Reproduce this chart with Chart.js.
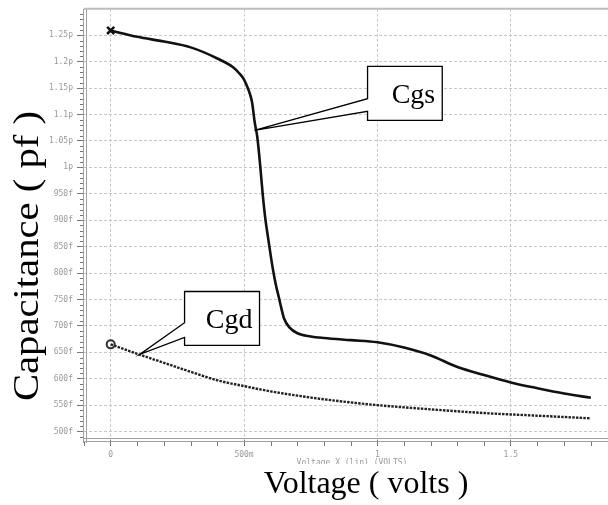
<!DOCTYPE html>
<html>
<head>
<meta charset="utf-8">
<title>Capacitance vs Voltage</title>
<script src="https://cdn.jsdelivr.net/npm/chart.js@4/dist/chart.umd.min.js"></script>
<style>
    body { margin: 0; background: #fff; overflow: hidden; }
    #wrap { position: absolute; left: 0; top: 0; width: 625px; height: 505px; }
</style>
</head>
<body>
<div id="wrap"><canvas id="chart" width="625" height="505"></canvas></div>
<script>
// values (volts, pF)
var seriesNames = ['Cgs', 'Cgd'];
var voltsCgs = [0, 0.1, 0.2, 0.3, 0.4, 0.46, 0.48, 0.5, 0.51, 0.52, 0.53, 0.54, 0.55, 0.56, 0.57, 0.58, 0.59, 0.6, 0.61, 0.62, 0.63, 0.64, 0.65, 0.67, 0.7, 0.75, 0.8, 0.9, 1.0, 1.1, 1.2, 1.3, 1.4, 1.5, 1.6, 1.7, 1.8];
var cgs = [1.259, 1.247, 1.238, 1.227, 1.206, 1.189, 1.179, 1.166, 1.155, 1.142, 1.123, 1.085, 1.056, 1.006, 0.949, 0.902, 0.867, 0.833, 0.802, 0.776, 0.755, 0.733, 0.714, 0.697, 0.686, 0.68, 0.677, 0.673, 0.669, 0.659, 0.644, 0.622, 0.607, 0.593, 0.582, 0.572, 0.564];
var voltsCgd = [0, 0.1, 0.2, 0.3, 0.4, 0.5, 0.6, 0.7, 0.8, 1.0, 1.2, 1.4, 1.6, 1.8];
var cgd = [0.665, 0.647, 0.63, 0.613, 0.597, 0.586, 0.576, 0.568, 0.561, 0.55, 0.542, 0.535, 0.53, 0.525];

var xTickValues = [0, 0.5, 1, 1.5];
var xTickLabels = ['0', '500m', '1', '1.5'];
var yTickValues = [0.5, 0.55, 0.6, 0.65, 0.7, 0.75, 0.8, 0.85, 0.9, 0.95, 1.0, 1.05, 1.1, 1.15, 1.2, 1.25];
var yTickLabels = ['500f', '550f', '600f', '650f', '700f', '750f', '800f', '850f', '900f', '950f', '1p', '1.05p', '1.1p', '1.15p', '1.2p', '1.25p'];

// callout boxes, in data units
var callouts = [
    { text: 'Cgs', x0: 0.963, x1: 1.243, y0: 1.191, y1: 1.089, ya: 1.130, yb: 1.106, tipX: 0.539, tipY: 1.07 },
    { text: 'Cgd', x0: 0.277, x1: 0.558, y0: 0.765, y1: 0.663, ya: 0.706, yb: 0.678, tipX: 0.109, tipY: 0.646 }
];

function points(xs, ys) {
    return xs.map(function(v, i) { return { x: v, y: ys[i] }; });
}

var framePlugin = {
    id: 'frame',
    beforeDatasetsDraw: function(chart) {
        var c = chart.ctx, a = chart.chartArea;
        var xs = chart.scales.x, ys = chart.scales.y;
        c.save();
        c.strokeStyle = '#a0a0a0';
        c.lineWidth = 1;
        c.beginPath();
        c.moveTo(a.left - 0.5, a.top); c.lineTo(a.left - 0.5, a.bottom + 3);
        c.moveTo(a.left + 2.5, a.top); c.lineTo(a.left + 2.5, a.bottom + 3);
        c.moveTo(a.left - 1, a.bottom - 1.5); c.lineTo(chart.width, a.bottom - 1.5);
        c.moveTo(a.left - 1, a.bottom + 1.5); c.lineTo(chart.width, a.bottom + 1.5);
        c.stroke();
        c.strokeStyle = '#bdbdbd';
        c.lineWidth = 2;
        c.beginPath();
        c.moveTo(a.left, a.top); c.lineTo(chart.width, a.top);
        c.stroke();
        // minor ticks
        c.strokeStyle = '#777';
        c.lineWidth = 1;
        c.beginPath();
        for (var k = 49; k <= 130; k++) {
            if (k % 5 === 0) continue;
            var py = Math.round(ys.getPixelForValue(k / 100)) + 0.5;
            c.moveTo(a.left - 4, py); c.lineTo(a.left - 1, py);
        }
        for (var j = -1; j <= 19; j++) {
            if (j % 5 === 0) continue;
            var px = Math.round(xs.getPixelForValue(j / 10)) + 0.5;
            c.moveTo(px, a.bottom + 2); c.lineTo(px, a.bottom + 6);
        }
        c.stroke();
        c.restore();
    },
    afterDraw: function(chart) {
        var c = chart.ctx;
        var xs = chart.scales.x, ys = chart.scales.y;
        c.save();
        callouts.forEach(function(b) {
            var l = xs.getPixelForValue(b.x0), r = xs.getPixelForValue(b.x1);
            var t = ys.getPixelForValue(b.y0), bt = ys.getPixelForValue(b.y1);
            var ya = ys.getPixelForValue(b.ya), yb = ys.getPixelForValue(b.yb);
            var tx = xs.getPixelForValue(b.tipX), ty = ys.getPixelForValue(b.tipY);
            c.beginPath();
            c.moveTo(l, t); c.lineTo(r, t); c.lineTo(r, bt); c.lineTo(l, bt);
            c.lineTo(l, yb); c.lineTo(tx, ty); c.lineTo(l, ya);
            c.closePath();
            c.fillStyle = '#fff';
            c.fill();
            c.strokeStyle = '#000';
            c.lineWidth = 1.3;
            c.stroke();
            c.fillStyle = '#000';
            c.font = '28px "Liberation Serif", "Times New Roman", serif';
            c.textAlign = 'right';
            c.textBaseline = 'alphabetic';
            c.fillText(b.text, r - 7, t + (bt - t) * 0.68);
        });
        // small caption half hidden under the axis title
        c.save();
        c.beginPath();
        c.rect(0, 458, chart.width, 6);
        c.clip();
        c.fillStyle = '#999';
        c.font = '8px "DejaVu Sans Mono", monospace';
        c.textAlign = 'center';
        c.textBaseline = 'top';
        c.fillText('Voltage X (lin) (VOLTS)', 352, 459);
        c.restore();
        // axis titles
        c.fillStyle = '#000';
        c.font = '32px "Liberation Serif", "Times New Roman", serif';
        c.textAlign = 'center';
        c.textBaseline = 'alphabetic';
        c.fillText('Voltage ( volts )', 366, 493);
        c.translate(38, 256);
        c.rotate(-Math.PI / 2);
        c.scale(1.13, 1);
        c.font = '36px "Liberation Serif", "Times New Roman", serif';
        c.fillText('Capacitance ( pf )', 0, 0);
        c.restore();
    }
};

var ctx = document.getElementById('chart');

new Chart(ctx, {
    type: 'line',
    data: {
        datasets: [{
            label: seriesNames[0],
            data: points(voltsCgs, cgs),
            borderColor: '#111',
            borderWidth: 2.6,
            cubicInterpolationMode: 'monotone',
            pointStyle: 'crossRot',
            pointRadius: function(c) { return c.dataIndex === 0 ? 5 : 0; },
            pointBorderWidth: 2.5,
            pointBorderColor: '#111',
            fill: false
        }, {
            label: seriesNames[1],
            data: points(voltsCgd, cgd),
            borderColor: '#222',
            borderWidth: 2.4,
            borderDash: [2.5, 1.2],
            cubicInterpolationMode: 'monotone',
            pointStyle: 'circle',
            pointRadius: function(c) { return c.dataIndex === 0 ? 4 : 0; },
            pointBorderWidth: 2,
            pointBorderColor: '#333',
            pointBackgroundColor: 'rgba(255,255,255,0)',
            fill: false
        }]
    },
    options: {
        responsive: false,
        animation: false,
        layout: { padding: { left: 0, top: 7, right: 7, bottom: 0 } },
        plugins: { legend: { display: false }, tooltip: { enabled: false } },
        scales: {
            x: {
                type: 'linear',
                min: -0.1,
                max: 1.9,
                afterFit: function(s) { s.height = 65; },
                afterBuildTicks: function(s) { s.ticks = xTickValues.map(function(v) { return { value: v }; }); },
                grid: { color: '#c8c8c8', lineWidth: 1, tickLength: 6, tickColor: '#777' },
                border: { display: false, dash: [3, 2] },
                ticks: {
                    autoSkip: false,
                    maxRotation: 0,
                    padding: 4,
                    color: '#999',
                    font: { family: '"DejaVu Sans Mono", monospace', size: 8 },
                    callback: function(v, i) { return xTickLabels[i]; }
                }
            },
            y: {
                min: 0.484,
                max: 1.3,
                afterFit: function(s) { s.width = 84; },
                afterBuildTicks: function(s) { s.ticks = yTickValues.map(function(v) { return { value: v }; }); },
                grid: { color: '#c8c8c8', lineWidth: 1, tickLength: 7, tickColor: '#777' },
                border: { display: false, dash: [3, 2] },
                ticks: {
                    autoSkip: false,
                    padding: 4,
                    color: '#999',
                    font: { family: '"DejaVu Sans Mono", monospace', size: 8 },
                    callback: function(v, i) { return yTickLabels[i]; }
                }
            }
        }
    },
    plugins: [framePlugin]
});
</script>
</body>
</html>
